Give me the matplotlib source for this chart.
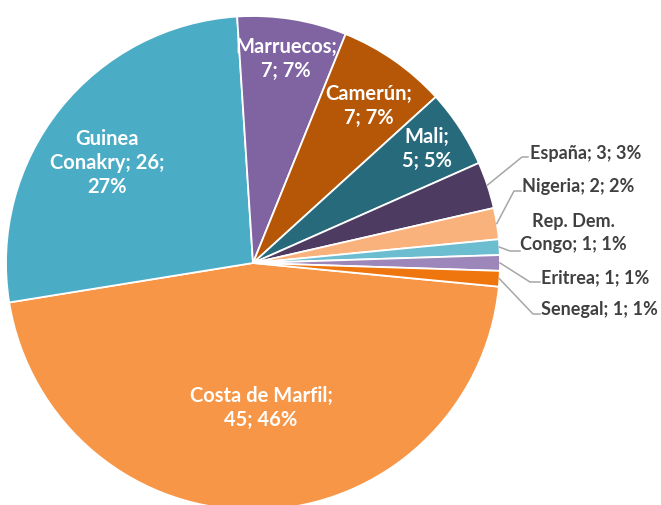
import matplotlib
matplotlib.use('Agg')
import matplotlib.pyplot as plt
import numpy as np

# datos del gráfico (orden de Excel, en sentido horario)
paises = ['Costa de Marfil', 'Guinea Conakry', 'Marruecos', 'Camerún', 'Mali',
          'España', 'Nigeria', 'Rep. Dem. Congo', 'Eritrea', 'Senegal']
valores = [45, 26, 7, 7, 5, 3, 2, 1, 1, 1]
colores = ['#F79646', '#4BACC6', '#8064A2', '#B65708', '#276A7C',
           '#4D3B62', '#F9B27C', '#6DBDD0', '#9D86BA', '#EF760E']

# textos de las etiquetas tal como aparecen
etiquetas = ['Costa de Marfil;\n{v}; {p}%', 'Guinea\nConakry; {v};\n{p}%',
             'Marruecos;\n{v}; {p}%', 'Camerún;\n{v}; {p}%', 'Mali;\n{v}; {p}%',
             'España; {v}; {p}%', 'Nigeria; {v}; {p}%', 'Rep. Dem.\nCongo; {v}; {p}%',
             'Eritrea; {v}; {p}%', 'Senegal; {v}; {p}%']

plt.rcParams['font.family'] = ['Lato', 'DejaVu Sans']

W, H = 661, 506
fig = plt.figure(figsize=(W / 100, H / 100), dpi=100)
ax = fig.add_axes([0, 0, 1, 1])

cx, cy, r = 253, 264, 247
total = sum(valores)

# y invertido: counterclock=True se ve en sentido horario
wedges, _ = ax.pie(valores, colors=colores, startangle=5.5, counterclock=True,
                   center=(cx, cy), radius=r, frame=True,
                   wedgeprops=dict(edgecolor='white', linewidth=1.3))
ax.set_xlim(0, W)
ax.set_ylim(H, 0)
ax.set_aspect('equal')
ax.axis('off')

# posiciones de las etiquetas internas
pos_in = {0: (261, 408), 1: (107, 163), 2: (286, 59), 3: (369, 106), 4: (427, 149)}
# etiquetas externas: codo, fin de la línea, posición del texto, alineación
pos_out = {5: ((522, 158), (528, 158), (530, 153), 'left'),
           6: ((514, 192), (521, 192), (522, 186), 'left'),
           7: ((510, 252), (520, 252), (573, 233), 'center'),
           8: ((530, 283), (540, 283), (541, 278), 'left'),
           9: ((533, 315), (540, 315), (541, 310), 'left')}

for i, w in enumerate(wedges):
    p = round(100 * valores[i] / total)
    txt = etiquetas[i].format(v=valores[i], p=p)
    if i in pos_in:
        x, y = pos_in[i]
        ax.text(x, y, txt, ha='center', va='center', color='white',
                fontsize=14.5, fontweight='bold', linespacing=1.25)
    else:
        ang = np.deg2rad((w.theta1 + w.theta2) / 2)
        x0, y0 = cx + r * np.cos(ang), cy + r * np.sin(ang)
        (ex, ey), (hx, hy), (tx, ty), ha = pos_out[i]
        ax.plot([x0, ex, hx], [y0, ey, hy], color='#A6A6A6', lw=1.1)
        ax.text(tx, ty, txt, ha=ha, va='center', color='#404040',
                fontsize=13, fontweight='bold', linespacing=1.4)

fig.savefig('out.png', dpi=100)
